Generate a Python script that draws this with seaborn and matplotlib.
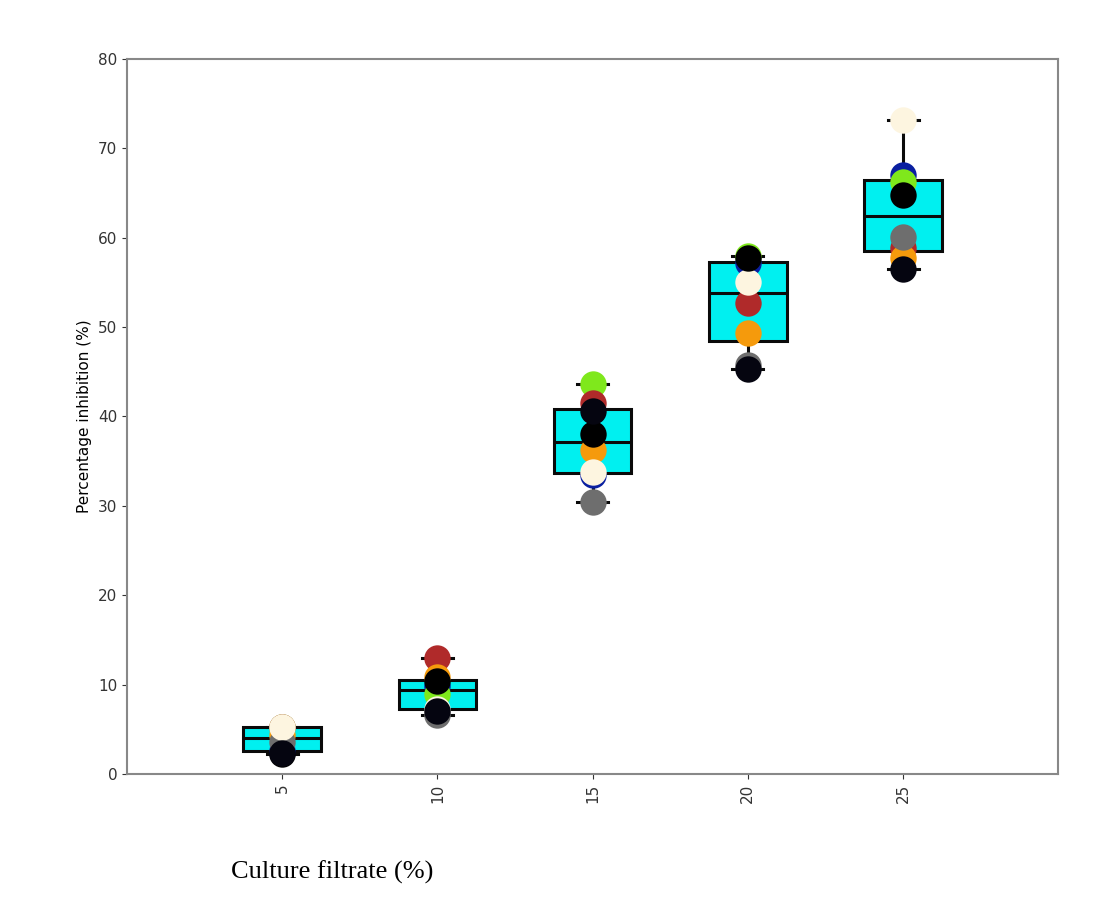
import matplotlib
matplotlib.use("Agg")
import matplotlib.pyplot as plt
import seaborn as sns
import pandas as pd

categories = ["5", "10", "15", "20", "25"]
# drawing order (later drawn on top)
series = ["blue", "green", "brown", "orange", "gray", "cream", "black", "black2"]
colors = {"black": "#000000", "gray": "#6e6e6e", "cream": "#fdf5e0", "orange": "#f59a0c",
          "brown": "#b02a2a", "green": "#7fe81c", "blue": "#0a1fa0", "black2": "#050510"}
values = {
    #      blue  green brown orange gray cream black black2
    "5":  [2.6, 5.3, 5.3, 4.4, 3.6, 5.3, 2.2, 2.3],
    "10": [9.8, 9.0, 13.0, 10.8, 6.6, 7.3, 10.4, 7.0],
    "15": [33.5, 43.6, 41.5, 36.2, 30.4, 33.8, 38.0, 40.6],
    "20": [57.2, 58.0, 52.7, 49.3, 45.8, 55.0, 57.7, 45.3],
    "25": [67.0, 66.2, 58.8, 57.7, 60.1, 73.2, 64.8, 56.5],
}

rows = [(c, s, v) for c in categories for s, v in zip(series, values[c])]
df = pd.DataFrame(rows, columns=["cat", "series", "val"])

fig = plt.figure(figsize=(11.14, 9.06), dpi=100)
ax = fig.add_axes([0.114, 0.1457, 0.836, 0.7893])
sns.boxplot(data=df, x="cat", y="val", order=categories, whis=(0, 100), width=0.5,
            showfliers=False, color="#00f0f0", saturation=1, linewidth=2.2,
            boxprops=dict(edgecolor="#0a0a0a"), medianprops=dict(color="#0a0a0a"),
            whiskerprops=dict(color="#0a0a0a"), capprops=dict(color="#0a0a0a"), capwidths=0.2, ax=ax)
for s in series:
    sub = df[df.series == s]
    sns.stripplot(data=sub, x="cat", y="val", order=categories, jitter=False, color=colors[s],
                  size=19, linewidth=0, ax=ax, zorder=5)

ax.set_xlim(-1, 5)
ax.set_ylim(0, 80)
ax.set_yticks(range(0, 81, 10))
ax.tick_params(axis="x", rotation=90, labelsize=11, colors="#333333")
ax.tick_params(axis="y", labelsize=11, colors="#333333")
for sp in ax.spines.values():
    sp.set_color("#888888"); sp.set_linewidth(1.5)
ax.set_xlabel("")
ax.set_ylabel("Percentage inhibition (%)", fontsize=11)
fig.text(0.207, 0.03, "Culture filtrate (%)", family="Liberation Serif", fontsize=19)
fig.savefig("out.png", dpi=100)
